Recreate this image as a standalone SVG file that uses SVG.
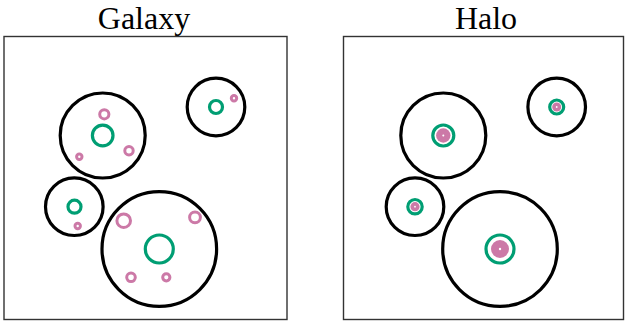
<svg xmlns="http://www.w3.org/2000/svg" width="626" height="326" viewBox="0 0 626 326">
<style>
.frame{fill:none;stroke:#333;stroke-width:1.4}
.title{font-family:"Liberation Serif",serif;font-size:32px;fill:#000;text-anchor:middle}
.host{fill:none;stroke:#000;stroke-width:3.2}
.gal{fill:none;stroke:#009e73;stroke-width:3.2}
.sat{fill:none;stroke:#cc79a7;stroke-width:3}
.sub{fill:#cc79a7;stroke:none}
.dot{fill:#fff;stroke:none}
</style>
<rect width="626" height="326" fill="#fff"/>
<g id="panel-galaxy">
<text class="title" x="144" y="28.8">Galaxy</text>
<rect class="frame" x="4" y="36.5" width="283" height="283"/>
<g id="g-halo1">
<circle class="host" cx="102.7" cy="135.5" r="42.5"/>
<circle class="gal" cx="102.7" cy="135.5" r="10.3"/>
<circle class="sat" cx="104.3" cy="114.3" r="4.6"/>
<circle class="sat" cx="129" cy="150.7" r="4.2"/>
<circle class="sat" cx="79.3" cy="156.7" r="2.7"/>
</g>
<g id="g-halo2">
<circle class="host" cx="216" cy="107" r="28.8"/>
<circle class="gal" cx="216" cy="107" r="6.5"/>
<circle class="sat" cx="234" cy="98.3" r="2.7"/>
</g>
<g id="g-halo3">
<circle class="host" cx="74.3" cy="206.7" r="28.8"/>
<circle class="gal" cx="74.5" cy="206.7" r="6.5"/>
<circle class="sat" cx="77.7" cy="226" r="2.7"/>
</g>
<g id="g-halo4">
<circle class="host" cx="159.3" cy="249" r="57.3"/>
<circle class="gal" cx="159.3" cy="249" r="14"/>
<circle class="sat" cx="123.7" cy="220.7" r="6.8"/>
<circle class="sat" cx="195" cy="217.3" r="5.4"/>
<circle class="sat" cx="131" cy="277.3" r="4.3"/>
<circle class="sat" cx="166.3" cy="277.3" r="3.6"/>
</g>
</g>
<g id="panel-halo">
<text class="title" x="486" y="28.8">Halo</text>
<rect class="frame" x="343.5" y="36.5" width="280" height="283"/>
<g id="h-halo1">
<circle class="host" cx="443.3" cy="135.5" r="42.5"/>
<circle class="gal" cx="443.3" cy="135.5" r="10.5"/>
<circle class="sub" cx="443.3" cy="135.5" r="7.2"/>
<circle class="dot" cx="443.3" cy="135.5" r="1"/>
</g>
<g id="h-halo2">
<circle class="host" cx="556.7" cy="107" r="28.8"/>
<circle class="gal" cx="556.7" cy="107" r="7"/>
<circle class="sub" cx="556.7" cy="107" r="4.5"/>
<circle class="dot" cx="556.7" cy="107" r="0.9"/>
</g>
<g id="h-halo3">
<circle class="host" cx="415" cy="206.7" r="28.8"/>
<circle class="gal" cx="415" cy="206.7" r="7.2"/>
<circle class="sub" cx="415" cy="206.7" r="4.6"/>
<circle class="dot" cx="415" cy="206.7" r="0.9"/>
</g>
<g id="h-halo4">
<circle class="host" cx="500" cy="249" r="57.3"/>
<circle class="gal" cx="500" cy="249" r="14"/>
<circle class="sub" cx="500" cy="249" r="9"/>
<circle class="dot" cx="500" cy="249" r="1.2"/>
</g>
</g>
</svg>
